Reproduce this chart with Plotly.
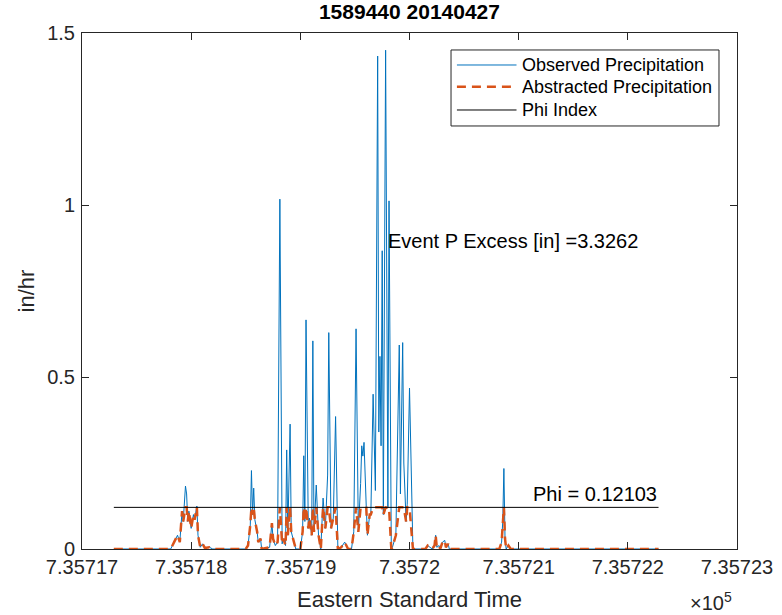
import numpy as np
import plotly.graph_objects as go

# event start (datenum, 2014-04-28 07:00) and hours since start
t_start = 735717.2917
hours = [0, 12.5, 13.25, 14.0, 14.5, 15.0, 15.25, 15.75, 16.0, 16.25, 16.5, 17.0, 17.5, 17.75,
         18.25, 18.5, 19.0, 19.5, 20.0, 21.0, 21.75, 29.0, 29.5, 30.0, 30.25, 30.5, 30.75, 31.0,
         31.5, 31.75, 32.25, 32.5, 34.25, 34.75, 35.0, 35.5, 36.0, 36.5, 37.0, 37.25, 37.75, 38.0,
         38.25, 38.75, 39.0, 39.5, 40.0, 41.0, 41.5, 41.75, 42.0, 42.25, 42.75, 43.0, 43.5, 43.75,
         44.0, 44.5, 45.0, 45.5, 46.0, 46.5, 47.0, 47.25, 47.75, 48.25, 48.75, 49.25, 50.0, 50.75,
         51.5, 52.25, 52.75, 53.25, 53.75, 54.25, 54.5, 54.75, 55.0, 55.5, 55.75, 56.25, 56.5,
         57.0, 57.25, 57.5, 58.0, 58.25, 58.5, 58.75, 59.0, 59.25, 59.75, 60.25, 60.5, 61.0,
         61.25, 62.0, 62.75, 63.0, 63.5, 63.75, 64.25, 64.5, 65.0, 65.75, 68.5, 69.0, 70.0, 70.5,
         70.75, 71.0, 71.5, 71.75, 72.25, 72.75, 73.0, 73.5, 73.75, 84.75, 85.25, 85.5, 85.75,
         86.0, 86.25, 86.75, 87.25, 119.75]
observed = [0, 0, 0.02, 0.04, 0.02, 0.11, 0.08, 0.183, 0.16, 0.08, 0.11, 0.06, 0.10, 0.085,
            0.125, 0.04, 0.005, 0.015, 0.003, 0.005, 0, 0, 0.01, 0.07, 0.228, 0.10, 0.177, 0.085,
            0.05, 0.02, 0.03, 0, 0.005, 0.075, 0.03, 0.01, 0.02, 1.017, 0.015, 0.03, 0.01, 0.288,
            0.04, 0.363, 0.05, 0.02, 0, 0, 0.05, 0.271, 0.08, 0.666, 0.06, 0.09, 0.04, 0.605,
            0.05, 0.186, 0.04, 0, 0.148, 0.06, 0.215, 0.629, 0.06, 0.09, 0.385, 0, 0.005, 0.02,
            0, 0, 0.05, 0.64, 0.05, 0.19, 0.30, 0.27, 0.31, 0.12, 0.04, 0.10, 0.10,
            0.45, 0.32, 0.17, 1.433, 0.34, 0.56, 0.30, 0.867, 0.10, 1.45, 0.12, 1.012, 0,
            0.005, 0.04, 0.593, 0.16, 0.60, 0.25, 0.08, 0.13, 0.468, 0, 0, 0.01, 0, 0.01,
            0.04, 0.005, 0.01, 0, 0.02, 0.025, 0.005, 0.015, 0, 0, 0.02, 0.08, 0.234,
            0.03, 0, 0.01, 0, 0]
phi = 0.12103
p_excess = 3.3262
title_text = "1589440 20140427"
x_ticks = [735717, 735718, 735719, 735720, 735721, 735722, 735723]
x_ticktext = ["7.35717", "7.35718", "7.35719", "7.3572", "7.35721", "7.35722", "7.35723"]
y_ticks = [0, 0.5, 1, 1.5]
y_ticktext = ["0", "0.5", "1", "1.5"]
legend_names = ["Observed Precipitation", "Abstracted Precipitation", "Phi Index"]

t = t_start + np.array(hours) / 24.0
obs = np.array(observed)
abstracted = np.minimum(obs, phi)

FONT = "Liberation Sans, Arial, sans-serif"
AX = "#262626"
styles = [dict(color="#0072BD", width=1),
          dict(color="#D95319", width=2.5, dash="9px,6px"),
          dict(color="#000000", width=1)]

fig = go.Figure()
fig.add_trace(go.Scatter(x=t, y=obs, mode="lines", name=legend_names[0], line=styles[0]))
fig.add_trace(go.Scatter(x=t, y=abstracted, mode="lines", name=legend_names[1], line=styles[1]))
fig.add_trace(go.Scatter(x=[t[0], t[-1]], y=[phi, phi], mode="lines", name=legend_names[2],
                         line=styles[2]))

# text labels
peak_t = t[int(np.argmax(obs))]
fig.add_annotation(x=peak_t, y=0.895, text="Event P Excess [in] =%.4f" % p_excess,
                   showarrow=False, xanchor="left", yanchor="middle",
                   font=dict(family=FONT, size=20, color="#000000"))
fig.add_annotation(x=t[-1], y=phi, text="Phi = %.5f" % phi, showarrow=False,
                   xanchor="right", yanchor="bottom", yshift=0,
                   font=dict(family=FONT, size=20, color="#000000"))
fig.add_annotation(xref="paper", yref="paper", x=0.995, y=-0.13, text="×10<sup>5</sup>",
                   showarrow=False, xanchor="right", yanchor="bottom",
                   font=dict(family=FONT, size=20, color=AX))

# legend box drawn by hand (MATLAB style, long line samples)
lx0, lx1, ly0, ly1 = 0.5634, 0.9725, 0.8198, 0.9671
row_y = [0.938, 0.8959, 0.8508]
fig.add_shape(type="rect", xref="paper", yref="paper", x0=lx0, x1=lx1, y0=ly0, y1=ly1,
              line=dict(color=AX, width=1), fillcolor="white", layer="above")
for name, st, ry in zip(legend_names, styles, row_y):
    fig.add_shape(type="line", xref="paper", yref="paper", x0=lx0 + 0.009, x1=lx0 + 0.1,
                  y0=ry, y1=ry, line=st, layer="above")
    fig.add_annotation(xref="paper", yref="paper", x=lx0 + 0.106, y=ry, text=name,
                       showarrow=False, xanchor="left", yanchor="middle",
                       font=dict(family=FONT, size=18, color="#000000"))

axis_common = dict(showline=True, linecolor=AX, linewidth=1, mirror="ticks", ticks="inside",
                   ticklen=7, tickwidth=1, tickcolor=AX, showgrid=False, zeroline=False,
                   automargin=False, tickfont=dict(family=FONT, size=20, color=AX))

fig.update_layout(
    width=782, height=615,
    margin=dict(l=82, r=45, t=33, b=66),
    paper_bgcolor="white", plot_bgcolor="white",
    title=dict(text="<b>%s</b>" % title_text, x=0.5236, xanchor="center",
               y=0.9805, yref="container", yanchor="middle",
               font=dict(family=FONT, size=21, color="#000000")),
    xaxis=dict(range=[735717, 735723], tickvals=x_ticks, ticktext=x_ticktext,
               title=dict(text="Eastern Standard Time", standoff=14,
                          font=dict(family=FONT, size=22, color=AX)),
               **axis_common),
    yaxis=dict(range=[0, 1.5], tickvals=y_ticks, ticktext=y_ticktext, ticklabelstandoff=2,
               title=dict(text="in/hr", standoff=6,
                          font=dict(family=FONT, size=22, color=AX)),
               **axis_common),
    showlegend=False,
)

# drop the default 8px page margin so the figure fills the window
fig.write_html("out.html", config={"displayModeBar": False},
               post_script="document.body.style.margin='0px';")
